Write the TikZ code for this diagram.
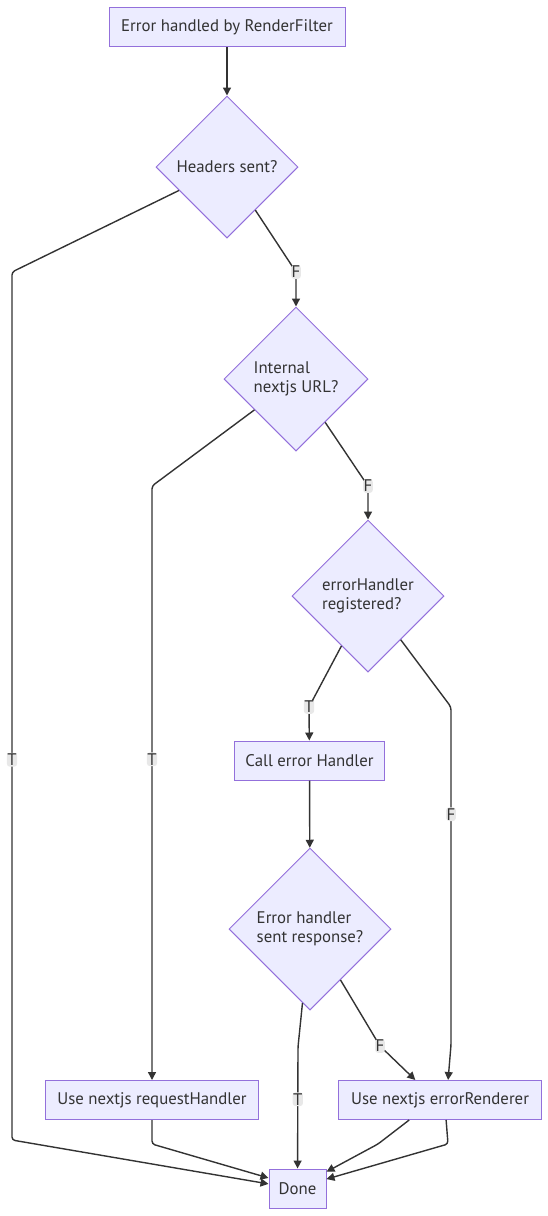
\documentclass[tikz,border=0pt]{standalone}
\usepackage{fontspec}
\setmainfont{PT Sans}
\usepackage{xcolor}
\usetikzlibrary{shapes.geometric,
	arrows.meta}
\definecolor{nfill}{HTML}{ECECFF}
\definecolor{nline}{HTML}{9370DB}
\definecolor{ntext}{HTML}{333333}
\definecolor{lbg}{HTML}{E8E8E8}
\tikzstyle{blk}=[draw=nline, fill=nfill, text=ntext, line width=1pt, minimum height=39pt, inner sep=0]
\tikzstyle{dec}=[draw=nline, fill=nfill, text=ntext, line width=1pt, diamond, inner sep=0, align=left]
\tikzstyle{lbl}=[fill=lbg, text=ntext, inner xsep=0.5pt, inner ysep=1pt]
\tikzstyle{ed}=[draw=ntext, line width=1.4pt, rounded corners=3pt, -{Triangle[length=8pt,width=8pt]}]

\begin{document}
\begin{tikzpicture}[x=1pt, y=-1pt, font=\fontsize{16.8}{19.5}\selectfont]
	\useasboundingbox (0,0) rectangle (547,1216);
	\node[blk, minimum width=236pt] (start) at (227,27) {Error handled by RenderFilter};
	\node[dec, minimum width=142pt, minimum height=142pt] (hs) at (227,167) {Headers sent?};
	\node[dec, minimum width=144pt, minimum height=144pt] (int) at (296,379) {Internal\\nextjs URL?};
	\node[dec, minimum width=152pt, minimum height=152pt] (eh) at (368,596) {errorHandler\\registered?};
	\node[blk, minimum width=150pt] (call) at (309.5,760.5) {Call error Handler};
	\node[dec, minimum width=162pt, minimum height=162pt] (esr) at (310,929) {Error handler\\sent response?};
	\node[blk, minimum width=213pt] (rh) at (152,1100) {Use nextjs requestHandler};
	\node[blk, minimum width=203pt] (er) at (440,1100) {Use nextjs errorRenderer};
	\node[blk, minimum width=57pt] (done) at (297.5,1188.5) {Done};

	\draw[ed] (start) -- (hs);
	\draw[ed] (hs) -- (12,272) -- node[lbl, pos=0.562] {T} (12,1140) -- (done.171);
	\draw[ed] (hs) -- (296,272) node[lbl] {F} -- (int);
	\draw[ed] (int) -- (152,486) -- node[lbl, pos=0.46] {T} (rh);
	\draw[ed] (int) -- (368,486) node[lbl] {F} -- (eh);
	\draw[ed] (eh) -- (309,707) node[lbl] {T} -- (call);
	\draw[ed] (eh) -- (451,707) -- node[lbl, pos=0.317] {F} (451,1045) -- (er.68);
	\draw[ed] (call) -- (esr);
	\draw[ed] (esr) -- (298,1047) -- node[lbl, pos=0.43] {T} (done);
	\draw[ed] (esr) -- (380,1046) node[lbl] {F} -- (er.141);
	\draw[ed] (rh) -- (152,1144) -- (done.160);
	\draw[ed] (er.213) -- (378,1144) -- (done.30);
	\draw[ed] (er.287) -- (448,1144) -- (done.18);
\end{tikzpicture}
\end{document}
